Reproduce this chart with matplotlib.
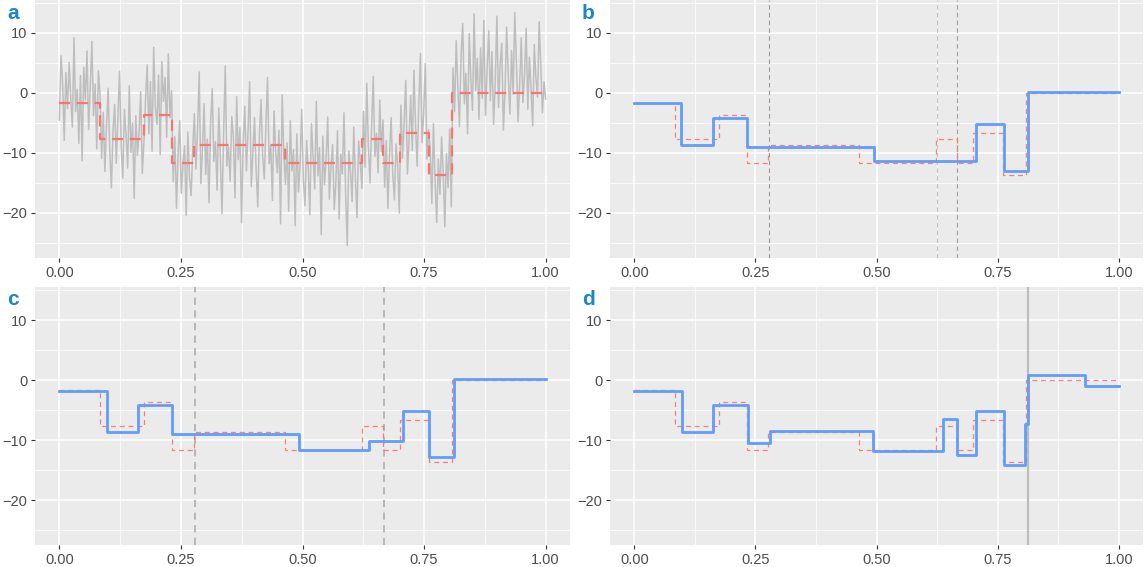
import matplotlib
matplotlib.use("Agg")
import matplotlib.pyplot as plt
import numpy as np

plt.rcParams['font.family'] = ['Liberation Sans', 'DejaVu Sans']

# observed noisy series (panel a), 300 samples on [0, 1]
observed = [
    # segment 1
    -4.5, 6.2, 1.8, -7.9, 3.4, -2.6, 5.1, -0.8, -5.7, 9.2, -3.1, 0.6, -8.4, 2.9, -11.3, 4.3, -1.2, 7.0, -6.1, 0.9,
    8.6, -3.8, 1.5, -9.3, 3.7, -0.4,
    # segment 2
    -10.9, -3.2, -13.1, -5.4, 0.8, -9.6, -15.8, -6.2, -1.9, -11.7, -4.3, 3.6, -8.8, -14.2, -2.7, -7.1, -12.5, 1.2,
    -9.9, -5.0, -17.6, -3.8, -10.4, -6.6, 0.2, -13.4, -8.1,
    # segment 3
    -0.9, 4.7, -6.8, 1.9, -9.7, 7.6, -2.3, -5.2, 3.0, -10.3, 5.2, -1.4, 2.6, -7.4, 6.5, -4.1, 0.4,
    # segment 4
    -14.8, -7.3, -19.2, -10.1, -4.6, -16.7, -12.0, -8.8, -20.4, -6.5, -13.9, -17.1, -9.4,
    # segment 5
    -3.4, -12.7, -6.0, 3.5, -15.1, -9.2, -1.8, -13.6, -7.7, -18.3, -4.9, 0.7, -11.4, -8.1, -16.2, -2.5, -10.8, -20.1,
    -6.7, 4.5, -12.2, -9.0, -14.7, -3.9, -7.3, -17.5, -0.6, -11.1, -5.8, -21.6, -8.4, -2.2, -13.0, -6.4, 1.9, -15.6,
    -9.7, -4.1, -12.9, -19.0, -7.0, -1.1, -10.5, -14.3, -5.3, 2.6, -11.8, -8.7, -17.9, -3.0, -9.9, -13.3, -6.2, -21.8,
    -0.3, -10.2,
    # segment 6
    -15.2, -8.3, -19.7, -4.6, -13.0, -9.4, -22.1, -6.8, -16.5, -11.9, -2.7, -14.4, -18.8, -7.9, -12.6, -20.3, -5.1,
    -10.7, -16.0, -1.4, -13.8, -9.1, -23.6, -7.2, -15.3, -11.0, -4.0, -17.7, -12.2, -8.6, -19.4, -14.9, -6.3, -21.0,
    -10.2, -13.5, -3.3, -16.8, -25.4, -9.7, -12.9, -18.1, -5.7, -14.1, -20.8, -8.0, -11.3, -15.9,
    # segment 7
    -3.1, -12.4, 1.6, -8.9, -15.0, -5.4, 2.8, -10.6, -6.7, -13.3, -1.2, -9.8, -4.5,
    # segment 8
    -15.7, -7.9, -19.2, -10.4, -4.1, -13.6, -17.8, -8.5, -12.1, -20.0,
    # segment 9
    -2.0, -10.9, -4.7, 2.1, -13.5, -7.8, -0.4, -9.6, 3.8, -5.5, -12.2, -1.6, 6.6, -8.3, -3.4, 4.9, -11.0, -6.1,
    # segment 10
    -9.2, -18.4, -5.1, -14.7, -21.6, -11.0, -16.9, -7.3, -13.2, -22.3, -10.1, -15.8, -6.0, -19.0,
    # segment 11
    4.2, -3.1, 8.7, 1.0, -5.6, 6.4, 11.6, -1.8, 3.3, -6.8, 9.9, 2.2, -2.9, 13.2, 0.4, 5.8, -4.4, 7.5, -0.9, 12.1,
    -3.7, 3.9, 10.4, -1.3, 6.9, -5.2, 1.7, 12.8, -2.4, 4.8, 8.3, -6.2, 0.3, 11.0, 2.6, -3.5, 7.1, -0.2, 13.4, 5.3,
    -4.8, 1.4, 9.2, -1.6, 3.0, 10.8, -2.7, 6.0, 0.8, -5.5, 8.1, 2.4, -0.7, 11.9, 4.5, -3.3, 1.9, -1.0,
]
obs_x = np.linspace(0, 1, len(observed))

# true piecewise-constant signal
true_breaks = [0, 0.084, 0.174, 0.232, 0.276, 0.463, 0.623, 0.666, 0.700, 0.761, 0.808, 1.0]
true_levels = [-1.6, -7.6, -3.6, -11.6, -8.6, -11.6, -7.6, -11.6, -6.6, -13.6, 0.0]

# estimates
b_breaks = [0, 0.097, 0.162, 0.232, 0.494, 0.706, 0.762, 0.812, 1.0]
b_levels = [-1.75, -8.65, -4.1, -8.95, -11.3, -5.15, -12.95, 0.15]
b_vlines = [0.2785, 0.6255, 0.667]
b_vcolors = ['#9A9A9A', '#C4C4C4', '#A0A0A0']

c_breaks = [0, 0.097, 0.162, 0.232, 0.493, 0.637, 0.706, 0.761, 0.811, 1.0]
c_levels = [-1.75, -8.6, -4.1, -8.95, -11.65, -10.1, -5.15, -12.9, 0.15]
c_vlines = [0.278, 0.667]

d_breaks = [0, 0.098, 0.163, 0.235, 0.281, 0.493, 0.637, 0.665, 0.706, 0.763, 0.807, 0.812, 0.931, 1.0]
d_levels = [-1.75, -8.6, -4.1, -10.55, -8.5, -11.75, -6.5, -12.45, -5.15, -14.15, -7.25, 0.8, -1.05]
d_vlines = [0.812]

RED = '#F8766D'
BLUE = '#619CFF'
W, H = 1145, 567


def step(ax, breaks, levels, **kw):
    ax.step(breaks, list(levels) + [levels[-1]], where='post', **kw)


def style(ax):
    ax.set_facecolor('#EBEBEB')
    for s in ax.spines.values():
        s.set_visible(False)
    ax.set_xlim(-0.05, 1.05)
    ax.set_ylim(-27.5, 15.5)
    ax.set_xticks([0, 0.25, 0.5, 0.75, 1.0])
    ax.set_xticklabels(['0.00', '0.25', '0.50', '0.75', '1.00'])
    ax.set_xticks([0.125, 0.375, 0.625, 0.875], minor=True)
    ax.set_yticks([-20, -10, 0, 10])
    ax.set_yticklabels(['\u221220', '\u221210', '0', '10'])
    ax.set_yticks([-25, -15, -5, 5, 15], minor=True)
    ax.grid(which='major', color='white', lw=1.1, zorder=0)
    ax.grid(which='minor', color='white', lw=0.55, zorder=0)
    ax.set_axisbelow(True)
    ax.tick_params(which='major', length=3, width=0.8, color='#333333',
                   labelsize=10.5, labelcolor='#4D4D4D', pad=2.5)
    ax.tick_params(which='minor', length=0)


fig = plt.figure(figsize=(W / 100, H / 100), dpi=100)
ax_a = fig.add_axes([0.0306, 0.545, 0.4672, 0.455])
ax_b = fig.add_axes([0.5328, 0.545, 0.4655, 0.455])
ax_c = fig.add_axes([0.0306, 0.0388, 0.4672, 0.455])
ax_d = fig.add_axes([0.5328, 0.0388, 0.4655, 0.455])

for ax in [ax_a, ax_b, ax_c, ax_d]:
    style(ax)

# panel letters, placed in figure pixels
for lab, px, py in [('a', 7, 4), ('b', 582, 4), ('c', 7, 290), ('d', 582, 290)]:
    fig.text(px / W, 1 - py / H, lab, fontsize=15, fontweight='bold',
             color='#1B87C9', ha='left', va='top')

# a: data + truth
ax_a.plot(obs_x, observed, color='#BEBEBE', lw=1.1, zorder=2)
step(ax_a, true_breaks, true_levels, color=RED, lw=1.6, dashes=(5, 3), zorder=3)

# b
for v, c in zip(b_vlines, b_vcolors):
    ax_b.axvline(v, color=c, lw=0.8, dashes=(4, 3), zorder=2)
step(ax_b, true_breaks, true_levels, color=RED, lw=0.9, dashes=(4, 3), alpha=0.9, zorder=3)
step(ax_b, b_breaks, b_levels, color=BLUE, lw=2.0, zorder=4)

# c
for v in c_vlines:
    ax_c.axvline(v, color='#B3B3B3', lw=1.3, dashes=(4, 3), zorder=2)
step(ax_c, true_breaks, true_levels, color=RED, lw=0.9, dashes=(4, 3), alpha=0.9, zorder=3)
step(ax_c, c_breaks, c_levels, color=BLUE, lw=2.0, zorder=4)

# d
for v in d_vlines:
    ax_d.axvline(v, color='#BDBDBD', lw=1.6, zorder=2)
step(ax_d, true_breaks, true_levels, color=RED, lw=0.9, dashes=(4, 3), alpha=0.9, zorder=3)
step(ax_d, d_breaks, d_levels, color=BLUE, lw=2.0, zorder=4)

fig.savefig('out.png', dpi=100)
